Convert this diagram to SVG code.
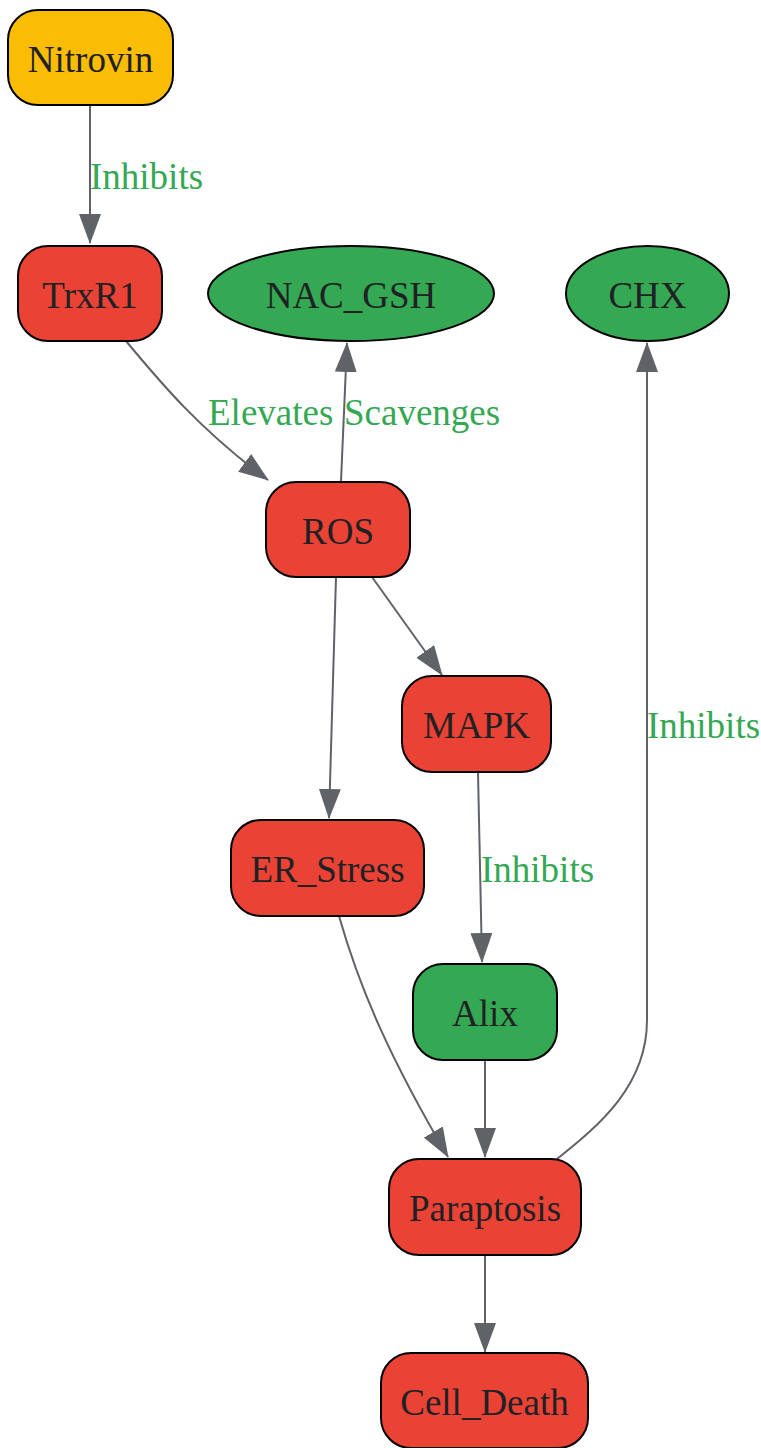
<svg xmlns="http://www.w3.org/2000/svg" width="761" height="1448" viewBox="0 0 761 1448">
<style>
.node{stroke:#000;stroke-width:2}
.red{fill:#EA4335}.green{fill:#34A853}.yellow{fill:#FBBC04}
.nt{font-family:"Liberation Serif",serif;font-size:37px;fill:#202124;text-anchor:middle}
.et{font-family:"Liberation Serif",serif;font-size:37px;fill:#34A853}
.edge{fill:none;stroke:#5F6368;stroke-width:2;marker-end:url(#arr)}
</style>
<defs>
<marker id="arr" viewBox="0 0 30 22" markerWidth="30" markerHeight="22" refX="29" refY="11" orient="auto" markerUnits="userSpaceOnUse">
<path d="M0,0 L30,11 L0,22 z" fill="#5F6368"/>
</marker>
</defs>
<g id="edges">
<path class="edge" d="M90,105 L90,243"/>
<path class="edge" d="M126,341 C160,382 200,430 268,480"/>
<path class="edge" d="M341,481 L347,343"/>
<path class="edge" d="M372,577 L442,675"/>
<path class="edge" d="M336,577 L329,818"/>
<path class="edge" d="M478,772 L482,962"/>
<path class="edge" d="M339,916 C360,990 391,1060 448,1157"/>
<path class="edge" d="M485,1060 L485,1157"/>
<path class="edge" d="M557,1159 C600,1125 647,1085 647,1020 L647,343"/>
<path class="edge" d="M485,1255 L485,1352"/>
<text class="et" x="90" y="189">Inhibits</text>
<text class="et" x="208" y="425">Elevates</text>
<text class="et" x="344" y="425">Scavenges</text>
<text class="et" x="481" y="882">Inhibits</text>
<text class="et" x="647" y="738">Inhibits</text>
</g>
<g id="Nitrovin"><rect class="node yellow" x="8" y="10" width="165" height="95" rx="30"/><text class="nt" x="90.5" y="72">Nitrovin</text></g>
<g id="TrxR1"><rect class="node red" x="18" y="246" width="144" height="95" rx="30"/><text class="nt" x="90" y="308">TrxR1</text></g>
<g id="NAC_GSH"><ellipse class="node green" cx="351" cy="293.5" rx="143" ry="47.5"/><text class="nt" x="351" y="308">NAC_GSH</text></g>
<g id="CHX"><ellipse class="node green" cx="647.5" cy="293.5" rx="81.5" ry="47.5"/><text class="nt" x="647.5" y="308">CHX</text></g>
<g id="ROS"><rect class="node red" x="266" y="482" width="144" height="95" rx="30"/><text class="nt" x="338" y="544">ROS</text></g>
<g id="MAPK"><rect class="node red" x="402" y="676" width="149" height="96" rx="30"/><text class="nt" x="476.5" y="738">MAPK</text></g>
<g id="ER_Stress"><rect class="node red" x="231" y="820" width="193" height="96" rx="30"/><text class="nt" x="327.5" y="882">ER_Stress</text></g>
<g id="Alix"><rect class="node green" x="413" y="964" width="144" height="96" rx="30"/><text class="nt" x="485" y="1026">Alix</text></g>
<g id="Paraptosis"><rect class="node red" x="389" y="1159" width="192" height="96" rx="30"/><text class="nt" x="485" y="1221">Paraptosis</text></g>
<g id="Cell_Death"><rect class="node red" x="381" y="1353" width="207" height="95" rx="30"/><text class="nt" x="484.5" y="1415">Cell_Death</text></g>
</svg>
